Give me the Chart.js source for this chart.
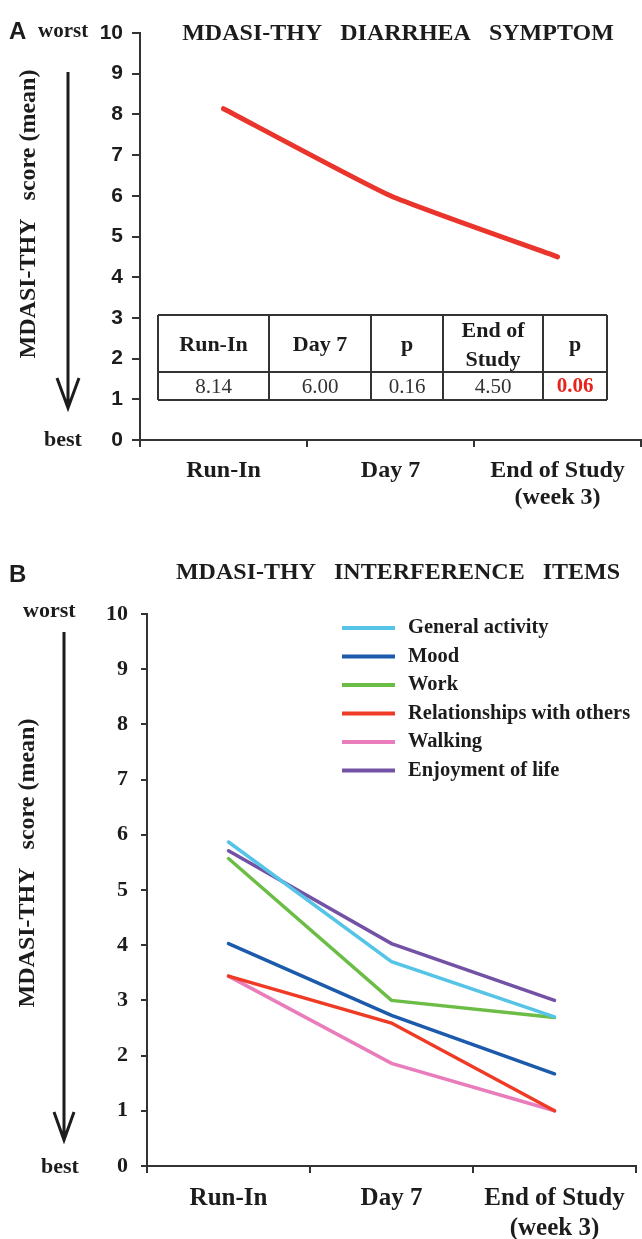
<!DOCTYPE html>
<html>
<head>
<meta charset="utf-8">
<script src="https://cdn.jsdelivr.net/npm/chart.js@4.4.1/dist/chart.umd.min.js"></script>
<style>
  body { margin: 0; background: #fff; }
  .panel { position: absolute; left: 0; width: 642px; }
  #wrapA { top: 0; height: 540px; }
  #wrapB { top: 540px; height: 699px; }
</style>
</head>
<body>
<div class="panel" id="wrapA"><canvas id="chartA"></canvas></div>
<div class="panel" id="wrapB"><canvas id="chartB"></canvas></div>
<script>
// ---- data ----
const timepoints = ["Run-In", "Day 7", ["End of Study", "(week 3)"]];
const yTicks = [0, 1, 2, 3, 4, 5, 6, 7, 8, 9, 10];

// panel A
const diarrheaMeans = [8.14, 6.00, 4.50];
const tableHeaders = ["Run-In", "Day 7", "p", ["End of", "Study"], "p"];
const tableValues = ["8.14", "6.00", "0.16", "4.50", "0.06"];

// panel B
const itemNames = ["General activity", "Mood", "Work", "Relationships with others", "Walking", "Enjoyment of life"];
const generalActivity = [5.87, 3.70, 2.70];
const mood = [4.03, 2.73, 1.67];
const work = [5.57, 3.00, 2.69];
const relationships = [3.44, 2.59, 1.00];
const walking = [3.44, 1.86, 1.00];
const enjoyment = [5.71, 4.03, 3.00];
const itemColors = ["#55c4e6", "#1c5aab", "#6cbd45", "#ef3b26", "#e97cba", "#7352a6"];

const INK = "#1c1c1c";
const SERIF = '"Liberation Serif", "Times New Roman", serif';
const SANS = '"Liberation Sans", Arial, sans-serif';

function arrow(ctx, x, y0, y1, hw, hh) {
  ctx.save();
  ctx.strokeStyle = INK;
  ctx.lineWidth = 3;
  ctx.beginPath();
  ctx.moveTo(x, y0); ctx.lineTo(x, y1);
  ctx.moveTo(x - hw, y1 - hh); ctx.lineTo(x, y1); ctx.lineTo(x + hw, y1 - hh);
  ctx.stroke();
  ctx.restore();
}

function vText(ctx, text, x, y, font) {
  ctx.save();
  ctx.translate(x, y);
  ctx.rotate(-Math.PI / 2);
  ctx.font = font;
  ctx.textAlign = "center";
  ctx.textBaseline = "middle";
  ctx.fillStyle = INK;
  ctx.fillText(text, 0, 0);
  ctx.restore();
}

const panelA = {
  id: "panelA",
  afterDraw(chart) {
    const ctx = chart.ctx;
    ctx.save();
    ctx.fillStyle = INK;
    ctx.textBaseline = "alphabetic";
    ctx.textAlign = "left";
    ctx.font = "bold 24px " + SANS;
    ctx.fillText("A", 9, 39);
    ctx.font = "bold 21px " + SERIF;
    ctx.fillText("worst", 38, 37);
    ctx.font = "bold 22px " + SERIF;
    ctx.fillText("best", 44, 446);
    ctx.textAlign = "center";
    ctx.font = "bold 24px " + SERIF;
    ctx.fillText("MDASI-THY   DIARRHEA   SYMPTOM", 398, 40);
    vText(ctx, "MDASI-THY   score (mean)", 29, 214, "bold 24px " + SERIF);
    arrow(ctx, 68, 72, 408, 11, 30);

    // summary table
    const cols = [158, 269, 371, 443, 543, 607];
    const rows = [315, 372, 400];
    ctx.fillStyle = "#fff";
    ctx.fillRect(cols[0], rows[0], cols[5] - cols[0], rows[2] - rows[0]);
    ctx.strokeStyle = "#333";
    ctx.lineWidth = 2;
    ctx.beginPath();
    cols.forEach(x => { ctx.moveTo(x, rows[0]); ctx.lineTo(x, rows[2]); });
    rows.forEach(y => { ctx.moveTo(cols[0], y); ctx.lineTo(cols[5], y); });
    ctx.stroke();
    ctx.textBaseline = "middle";
    tableHeaders.forEach((h, i) => {
      const cx = (cols[i] + cols[i + 1]) / 2;
      ctx.fillStyle = INK;
      ctx.font = "bold 22px " + SERIF;
      if (Array.isArray(h)) {
        ctx.fillText(h[0], cx, 331);
        ctx.fillText(h[1], cx, 360);
      } else {
        ctx.fillText(h, cx, 345);
      }
      const last = i === tableValues.length - 1;
      ctx.font = (last ? "bold " : "") + "21px " + SERIF;
      ctx.fillStyle = last ? "#e8231c" : "#333";
      ctx.fillText(tableValues[i], cx, 387);
    });
    ctx.restore();
  }
};

const panelB = {
  id: "panelB",
  afterDraw(chart) {
    const ctx = chart.ctx;
    ctx.save();
    ctx.fillStyle = INK;
    ctx.textBaseline = "alphabetic";
    ctx.textAlign = "left";
    ctx.font = "bold 24px " + SANS;
    ctx.fillText("B", 9, 42);
    ctx.font = "bold 22px " + SERIF;
    ctx.fillText("worst", 23, 77);
    ctx.fillText("best", 41, 633);
    ctx.textAlign = "center";
    ctx.font = "bold 24px " + SERIF;
    ctx.fillText("MDASI-THY   INTERFERENCE   ITEMS", 398, 39);
    vText(ctx, "MDASI-THY   score (mean)", 28, 323, "bold 24px " + SERIF);
    arrow(ctx, 64, 92, 600, 10, 28);

    // legend
    ctx.textAlign = "left";
    ctx.textBaseline = "middle";
    ctx.font = "bold 20.5px " + SERIF;
    chart.data.datasets.forEach((ds, i) => {
      const y = 88 + i * 28.5;
      ctx.strokeStyle = ds.borderColor;
      ctx.lineWidth = 4;
      ctx.beginPath();
      ctx.moveTo(342, y); ctx.lineTo(395, y);
      ctx.stroke();
      ctx.fillStyle = INK;
      ctx.fillText(ds.label, 408, y);
    });
    ctx.restore();
  }
};

function axes(opts) {
  return {
    x: {
      type: "category",
      offset: true,
      grid: { offset: true, drawOnChartArea: false, color: "#333", tickLength: 7, lineWidth: 2 },
      border: { color: "#333", width: 2 },
      ticks: { color: INK, font: { family: SERIF, size: opts.xSize, weight: "bold", lineHeight: opts.xLine }, padding: opts.xPad, maxRotation: 0, autoSkip: false },
      afterFit: s => { s.height = opts.xHeight; }
    },
    y: {
      min: 0, max: 10,
      afterBuildTicks: s => { s.ticks = yTicks.map(v => ({ value: v })); },
      grid: { drawOnChartArea: false, color: "#333", tickLength: opts.yTick, lineWidth: 2 },
      border: { color: "#333", width: 2 },
      ticks: { color: INK, font: opts.yFont, padding: opts.yPad },
      afterFit: s => { s.width = opts.yWidth; }
    }
  };
}

const common = {
  responsive: true,
  maintainAspectRatio: false,
  animation: false,
  plugins: { legend: { display: false }, tooltip: { enabled: false } },
  elements: { point: { radius: 0 } }
};

new Chart(document.getElementById("chartA"), {
  type: "line",
  data: {
    labels: timepoints,
    datasets: [{ label: "Diarrhea", data: diarrheaMeans, borderColor: "#e9352c", borderWidth: 5, tension: 0.15, borderCapStyle: "round" }]
  },
  options: Object.assign({}, common, {
    layout: { padding: { top: 33, right: 1, left: 0, bottom: 0 } },
    scales: axes({ xSize: 24, xLine: 1.125, xPad: 10, xHeight: 100, yWidth: 140, yTick: 8, yPad: 9, yFont: { family: SANS, size: 21, weight: "bold" } })
  }),
  plugins: [panelA]
});

const itemSeries = [generalActivity, mood, work, relationships, walking, enjoyment];
new Chart(document.getElementById("chartB"), {
  type: "line",
  data: {
    labels: timepoints,
    datasets: itemSeries.map((d, i) => ({ label: itemNames[i], data: d, borderColor: itemColors[i], borderWidth: 3.5, tension: 0, borderCapStyle: "round" }))
  },
  options: Object.assign({}, common, {
    layout: { padding: { top: 74, right: 6, left: 0, bottom: 0 } },
    scales: axes({ xSize: 25, xLine: 1.2, xPad: 11, xHeight: 73, yWidth: 147, yTick: 6, yPad: 13, yFont: { family: SERIF, size: 22, weight: "bold" } })
  }),
  plugins: [panelB]
});
</script>
</body>
</html>
